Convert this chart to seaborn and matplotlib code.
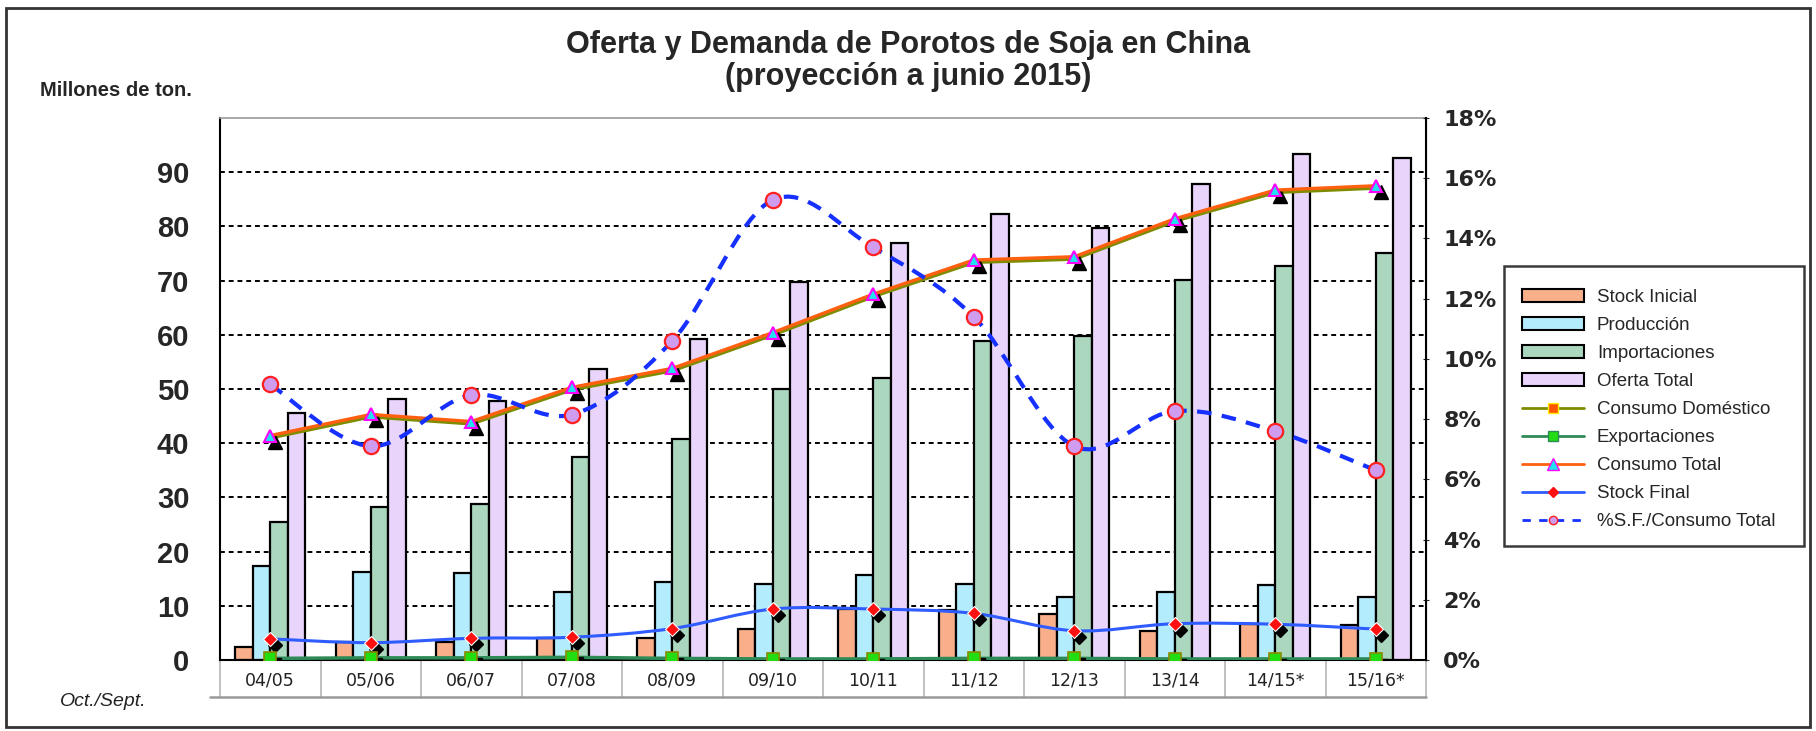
import numpy as np
import pandas as pd
import seaborn as sns
import matplotlib.pyplot as plt
from matplotlib.patches import Patch, Rectangle, PathPatch
from matplotlib.lines import Line2D
from matplotlib.path import Path
from matplotlib.transforms import offset_copy, blended_transform_factory

# data (millones de toneladas)
campanas = ["04/05", "05/06", "06/07", "07/08", "08/09", "09/10",
            "10/11", "11/12", "12/13", "13/14", "14/15*", "15/16*"]
stock_inicial = [2.4, 3.4, 3.4, 4.1, 4.1, 5.7, 9.4, 9.2, 8.4, 5.3, 6.6, 6.4]
produccion = [17.3, 16.3, 16.0, 12.6, 14.4, 14.0, 15.7, 14.0, 11.7, 12.6, 13.9, 11.7]
importaciones = [25.5, 28.3, 28.7, 37.5, 40.8, 50.0, 52.0, 58.9, 59.8, 70.1, 72.7, 75.1]
oferta_total = [45.6, 48.2, 47.8, 53.7, 59.3, 69.7, 76.9, 82.2, 79.7, 87.8, 93.4, 92.7]
consumo_domestico = [41.1, 45.0, 43.7, 50.0, 53.5, 60.1, 67.2, 73.5, 74.1, 81.1, 86.4, 87.2]
exportaciones = [0.3, 0.4, 0.4, 0.5, 0.3, 0.2, 0.2, 0.3, 0.3, 0.2, 0.2, 0.2]
consumo_total = [41.4, 45.3, 44.0, 50.3, 53.8, 60.4, 67.5, 73.8, 74.4, 81.4, 86.7, 87.5]
stock_final = [3.9, 3.2, 4.0, 4.2, 5.8, 9.4, 9.4, 8.6, 5.4, 6.7, 6.6, 5.7]
pct_sf = [9.15, 7.1, 8.8, 8.15, 10.6, 15.28, 13.7, 11.4, 7.1, 8.27, 7.6, 6.3]

series_barras = ["Stock Inicial", "Producción", "Importaciones", "Oferta Total"]
colores_barras = ["#f9b08a", "#b3ecfc", "#acd7bf", "#e9d5fc"]

df = pd.DataFrame({"Campaña": campanas,
                   "Stock Inicial": stock_inicial,
                   "Producción": produccion,
                   "Importaciones": importaciones,
                   "Oferta Total": oferta_total})
bars_df = df.melt(id_vars="Campaña", var_name="Serie", value_name="Valor")


def smooth_path(xs, ys):
    # excel-like smoothed line drawn as bezier segments through the points
    pts = np.column_stack([xs, ys]).astype(float)
    n = len(pts)
    verts, codes = [pts[0]], [Path.MOVETO]
    for i in range(n - 1):
        p0, p1 = pts[max(i - 1, 0)], pts[i]
        p2, p3 = pts[i + 1], pts[min(i + 2, n - 1)]
        verts += [p1 + (p2 - p0) / 6, p2 - (p3 - p1) / 6, p2]
        codes += [Path.CURVE4] * 3
    return Path(verts, codes)


sns.set_style("white")
fig = plt.figure(figsize=(18.16, 7.31), dpi=100)
ax = fig.add_axes([220 / 1816, 71 / 731, 1206 / 1816, 542 / 731])

sns.barplot(data=bars_df, x="Campaña", y="Valor", hue="Serie",
            hue_order=series_barras, palette=colores_barras, saturation=1,
            width=0.7, edgecolor="black", linewidth=1.6, legend=False,
            ax=ax, zorder=2)

x = np.arange(len(campanas))
shadow = offset_copy(ax.transData, fig=fig, x=5, y=-6, units="dots")

# consumo domestico / total
ax.plot(x, consumo_domestico, color="#7f8c00", lw=3.5, zorder=4)
ax.plot(x, consumo_total, color="#ff6010", lw=2.4, zorder=5)
ax.plot(x, consumo_total, ls="none", marker="^", ms=10, color="black",
        transform=shadow, zorder=4)
ax.plot(x, consumo_total, ls="none", marker="^", ms=9, mfc="#22e0f0",
        mec="#ff00ff", mew=1.5, zorder=6)

# exportaciones
ax.plot(x, exportaciones, color="#2e8b57", lw=2.5, zorder=4)
ax.plot(x, exportaciones, ls="none", marker="s", ms=8, color="black",
        transform=shadow, zorder=4)
ax.plot(x, exportaciones, ls="none", marker="s", ms=8, mfc="#22dd11",
        mec="#8a8a00", mew=1.2, zorder=6)

# stock final
ax.add_patch(PathPatch(smooth_path(x, stock_final), fill=False,
                       ec="#2f5cff", lw=2.2, zorder=5))
ax.plot(x, stock_final, ls="none", marker="D", ms=7, color="black",
        transform=shadow, zorder=5)
ax.plot(x, stock_final, ls="none", marker="D", ms=7, mfc="#ff1010",
        mec="white", mew=0.8, zorder=6)

ax.set_xlim(-0.5, len(campanas) - 0.5)
ax.set_ylim(0, 100)
ax.set_yticks(range(0, 100, 10))
ax.set_axisbelow(True)
ax.yaxis.grid(True, color="black", ls=(0, (2.5, 2)), lw=1.4)
ax.set_xlabel("")
ax.set_ylabel("")
ax.tick_params(axis="y", length=0, pad=22)
ax.tick_params(axis="x", length=0, pad=8)
for lab in ax.get_yticklabels():
    lab.set_fontfamily("Liberation Sans")
    lab.set_fontweight("bold")
    lab.set_fontsize(21)
ax.set_xticks(x)
ax.set_xticklabels(campanas, fontfamily="DejaVu Sans", fontsize=12.5,
                   color="#222222")
for side in ["left", "bottom"]:
    ax.spines[side].set_color("black")
    ax.spines[side].set_linewidth(1.5)
ax.spines["top"].set_color("#999999")
ax.spines["top"].set_linewidth(1.2)

# cells under the x axis
cell = blended_transform_factory(ax.transData, ax.transAxes)
for b in np.arange(-0.5, len(campanas), 1.0):
    ax.plot([b, b], [0, -0.068], color="#b5b5b5", lw=1.2,
            transform=cell, clip_on=False)
ax.plot([-0.6, len(campanas) - 0.5], [-0.068, -0.068], color="#999999",
        lw=1.8, transform=cell, clip_on=False)

# % stock final / consumo total
ax2 = ax.twinx()
ax2.set_ylim(0, 18)
ax2.set_yticks(range(0, 19, 2))
ax2.set_yticklabels([f"{v}%" for v in range(0, 19, 2)],
                    fontfamily="DejaVu Sans", fontweight="bold", fontsize=16)
ax2.tick_params(axis="y", length=5, direction="inout", pad=10)
ax2.add_patch(PathPatch(smooth_path(x, pct_sf), fill=False, ec="#1530ff",
                        lw=3, ls=(0, (3.5, 2.5)), zorder=5))
ax2.plot(x, pct_sf, ls="none", marker="o", ms=11, mfc="#cf9cf0",
         mec="#ff2020", mew=1.6, zorder=6)
for side in ["left", "top", "bottom"]:
    ax2.spines[side].set_visible(False)
ax2.spines["right"].set_color("black")
ax2.spines["right"].set_linewidth(1.5)
ax2.grid(False)

# titles and notes
fig.text(0.5, 1 - 45 / 731, "Oferta y Demanda de Porotos de Soja en China",
         ha="center", va="center", fontsize=22, fontweight="bold",
         fontfamily="Liberation Sans")
fig.text(0.5, 1 - 77 / 731, "(proyección a junio 2015)",
         ha="center", va="center", fontsize=22, fontweight="bold",
         fontfamily="Liberation Sans")
fig.text(40 / 1816, 1 - 90 / 731, "Millones de ton.", ha="left", va="center",
         fontsize=14.5, fontweight="bold", fontfamily="Liberation Sans")
fig.text(60 / 1816, 1 - 701 / 731, "Oct./Sept.", ha="left", va="center",
         fontsize=14, style="italic", fontfamily="Liberation Sans",
         color="#222222")

# legend
handles = [Patch(fc=c, ec="black", lw=1.5) for c in colores_barras]
handles += [
    Line2D([], [], color="#7f8c00", lw=2, marker="s", ms=7, mfc="#ff5500",
           mec="#ffee00"),
    Line2D([], [], color="#2e8b57", lw=2, marker="s", ms=7, mfc="#22dd11",
           mec="#2e8b57"),
    Line2D([], [], color="#ff6010", lw=2, marker="^", ms=8, mfc="#22e0f0",
           mec="#ff00ff"),
    Line2D([], [], color="#2f5cff", lw=2, marker="D", ms=5, mfc="#ff1010",
           mec="#ff1010"),
    Line2D([], [], color="#1530ff", lw=2, ls=(0, (3, 3)), marker="o", ms=6,
           mfc="#cf9cf0", mec="#ff2020"),
]
labels = series_barras + ["Consumo Doméstico", "Exportaciones",
                          "Consumo Total", "Stock Final",
                          "%S.F./Consumo Total"]
fig.legend(handles, labels, loc="upper left",
           bbox_to_anchor=(1522 / 1816, 1 - 289 / 731), frameon=False,
           borderaxespad=0, borderpad=0, handlelength=3.3,
           handletextpad=0.7, labelspacing=0.58,
           prop={"family": "Liberation Sans", "size": 13.5})
fig.patches.append(Rectangle((1504 / 1816, 1 - 546 / 731), 300 / 1816,
                             280 / 731, transform=fig.transFigure, fill=False,
                             ec="#3a3a3a", lw=1.8))

# outer frame
fig.patches.append(Rectangle((6 / 1816, 4 / 731), 1804 / 1816, 719 / 731,
                             transform=fig.transFigure, fill=False,
                             ec="#333333", lw=2))

fig.savefig("out.png", dpi=100)
